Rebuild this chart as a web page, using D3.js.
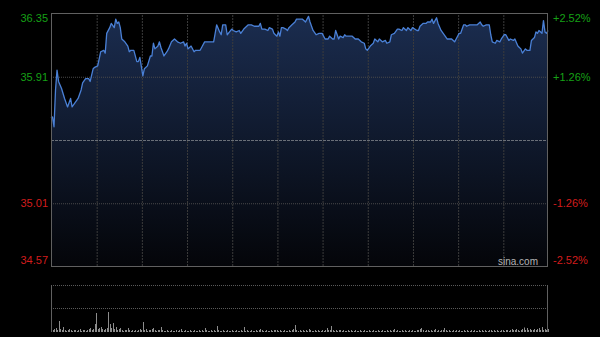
<!DOCTYPE html>
<html>
<head>
<meta charset="utf-8">
<script src="https://cdn.jsdelivr.net/npm/d3@7"></script>
<style>
  html, body { margin: 0; padding: 0; background: #000; }
  svg { display: block; }
  text { font-family: Arial, "Liberation Sans", sans-serif; }
</style>
</head>
<body>
<div id="myChart"></div>
<script>
// previous close and the symmetric percent ticks
const prevClose = 35.46;
const pctTicks = [2.52, 1.26, 0, -1.26, -2.52];

// minutes since the open (HK session: 330 trading minutes)
const times = [
  0,1,2,3,4,5,7,9,11,13,14,16,18,20,21,23,25,26,28,29,
  31,32,33,35,36,37,39,40,42,43,44,45,46,47,49,51,52,53,55,57,58,59,
  61,62,64,66,67,68,69,71,72,73,75,77,78,80,82,84,86,88,89,
  90,91,93,95,96,99,100,102,108,110,112,113,114,116,117,
  120,121,123,125,126,128,131,133,135,138,139,140,142,144,145,147,148,
  150,151,152,153,154,156,157,158,160,162,163,167,169,170,171,172,174,176,178,
  180,182,184,185,187,188,189,191,192,194,195,196,198,200,202,204,206,208,209,
  210,212,214,215,217,218,220,222,223,225,226,228,230,231,233,234,236,237,239,
  240,243,244,245,247,249,250,252,253,254,256,257,259,261,263,265,266,268,269,
  271,272,274,275,276,278,281,283,285,286,287,289,291,292,293,295,296,298,299,
  301,302,304,305,307,308,310,311,312,313,315,316,318,319,321,322,323,324,326,327,328,329,330
];
const prices = [
  35.61,35.62,35.55,35.81,35.95,35.87,35.82,35.75,35.69,35.75,35.69,35.72,35.75,35.81,35.86,35.89,35.89,35.87,35.96,35.97,
  35.98,36.03,36.08,36.09,36.07,36.21,36.25,36.28,36.25,36.31,36.28,36.29,36.25,36.17,36.15,36.12,36.08,36.09,36.09,36.01,36.01,36.04,
  35.91,35.96,35.98,36.05,36.05,36.14,36.10,36.12,36.15,36.11,36.05,36.08,36.10,36.15,36.17,36.15,36.14,36.15,36.12,
  36.14,36.10,36.12,36.08,36.09,36.09,36.11,36.15,36.15,36.27,36.22,36.20,36.27,36.27,36.20,
  36.24,36.23,36.22,36.23,36.21,36.24,36.27,36.27,36.26,36.26,36.28,36.24,36.24,36.23,36.25,36.24,36.21,
  36.19,36.22,36.19,36.25,36.25,36.24,36.23,36.25,36.27,36.29,36.31,36.31,36.29,36.31,36.33,36.29,36.23,36.20,36.21,
  36.21,36.17,36.17,36.19,36.17,36.17,36.23,36.17,36.19,36.18,36.20,36.19,36.19,36.19,36.17,36.17,36.15,36.14,36.10,
  36.09,36.12,36.14,36.17,36.15,36.17,36.15,36.16,36.14,36.15,36.20,36.21,36.24,36.24,36.23,36.25,36.23,36.25,36.23,
  36.25,36.23,36.23,36.26,36.28,36.28,36.29,36.29,36.31,36.28,36.32,36.28,36.23,36.20,36.17,36.17,36.17,36.15,36.17,
  36.21,36.21,36.27,36.27,36.26,36.27,36.27,36.27,36.29,36.27,36.26,36.27,36.27,36.20,36.15,36.14,36.16,36.15,36.17,
  36.20,36.20,36.16,36.17,36.16,36.17,36.12,36.11,36.10,36.07,36.10,36.09,36.09,36.16,36.18,36.22,36.21,36.23,36.21,36.30,36.22,36.21,36.23
];

// volume per minute (thousand shares, one value per minute 0..330)
const volumes = [
  30,20,30,40,20,110,30,20,50,20,10,20,30,20,10,20,20,10,20,30,10,20,20,10,20,30,40,20,30,80,
  190,30,40,50,30,20,30,40,200,80,40,90,30,50,20,30,40,20,10,20,20,40,20,10,20,10,20,10,20,30,
  20,100,20,30,10,20,20,30,40,20,10,20,20,50,20,10,10,20,10,10,20,10,10,20,10,20,30,10,10,20,
  10,10,20,10,10,20,10,10,20,10,20,10,40,20,10,10,20,10,20,10,60,20,10,10,20,10,10,20,10,10,
  20,10,10,20,10,10,20,10,50,10,20,10,10,20,10,10,20,10,20,30,20,10,10,20,10,10,20,10,20,20,
  20,10,20,10,10,20,10,10,20,10,20,30,70,20,10,20,10,20,10,20,10,30,20,10,10,20,10,20,10,10,
  20,10,20,40,20,20,60,20,10,20,10,20,20,10,20,10,10,20,10,20,10,10,20,10,10,20,10,10,20,10,
  10,20,10,10,20,10,10,20,10,10,20,10,10,20,10,20,10,20,30,10,20,10,10,20,10,20,10,10,20,10,
  20,10,10,20,20,30,40,20,10,20,20,10,20,10,20,30,10,20,10,20,20,40,20,10,20,10,10,20,10,20,
  10,20,10,10,20,10,20,10,10,20,10,20,10,10,20,10,20,10,20,10,10,20,20,10,20,10,20,10,10,20,
  20,10,20,20,10,20,30,20,20,30,20,10,20,30,45,20,40,20,30,20,20,30,20,30,40,20,50,20,30,20,30
];

const W = 600, H = 337;
const plot = {left: 51, right: 548, top: 13, bottom: 266};
const vol = {top: 285, bottom: 332};

const svg = d3.select("#myChart")
  .append("svg")
    .attr("width", W)
    .attr("height", H);

svg.append("rect").attr("width", W).attr("height", H).attr("fill", "#000");

// scales
let x = d3.scaleLinear().domain([0, 330]).range([plot.left, plot.right]);
let y = d3.scaleLinear()
  .domain([prevClose * (1 - pctTicks[0] / 100), prevClose * (1 + pctTicks[0] / 100)])
  .range([plot.bottom, plot.top]);
let yv = d3.scaleLinear().domain([0, 470]).range([vol.bottom, vol.top]);

const data = d3.zip(times, prices);

// gradient under the line
const grad = svg.append("defs").append("linearGradient")
  .attr("id", "fillGrad")
  .attr("gradientUnits", "userSpaceOnUse")
  .attr("x1", 0).attr("y1", plot.top).attr("x2", 0).attr("y2", plot.bottom);
grad.append("stop").attr("offset", "0%").attr("stop-color", "#1b2d50");
grad.append("stop").attr("offset", "100%").attr("stop-color", "#040509");

svg.append("path")
  .datum(data)
  .attr("fill", "url(#fillGrad)")
  .attr("d", d3.area()
    .x(d => x(d[0]))
    .y0(plot.bottom)
    .y1(d => y(d[1])));

// vertical grid (every 30 minutes)
const gridTimes = d3.range(30, 330, 30);
svg.append("g")
  .attr("transform", "translate(0," + plot.bottom + ")")
  .call(d3.axisBottom(x).tickValues(gridTimes).tickSize(-(plot.bottom - plot.top)).tickFormat(""))
  .call(g => g.select(".domain").remove())
  .selectAll("line")
    .attr("stroke", "#3c3c3c")
    .attr("stroke-dasharray", "2,1")
    .attr("transform", "translate(0.5,0)");

// horizontal grid
const priceTicks = pctTicks.map(p => prevClose * (1 + p / 100));
svg.append("g")
  .attr("transform", "translate(" + plot.left + ",0)")
  .call(d3.axisRight(y).tickValues(priceTicks.slice(1, 4)).tickSize(plot.right - plot.left).tickFormat(""))
  .call(g => g.select(".domain").remove())
  .selectAll("line")
    .attr("stroke", (d, i) => i === 1 ? "#6a6f78" : "#4a4a4a")
    .attr("stroke-dasharray", (d, i) => i === 1 ? "3,1" : "1,1")
    .attr("transform", "translate(0,0.5)");

// price line
svg.append("path")
  .datum(data)
  .attr("fill", "none")
  .attr("stroke", "#4a80d6")
  .attr("stroke-width", 1.3)
  .attr("stroke-linejoin", "round")
  .attr("d", d3.line().x(d => x(d[0])).y(d => y(d[1])));

// frame
svg.append("rect")
  .attr("x", plot.left + 0.5).attr("y", plot.top + 0.5)
  .attr("width", plot.right - plot.left - 1).attr("height", plot.bottom - plot.top)
  .attr("fill", "none")
  .attr("stroke", "#606060");

// left axis labels (prices)
const colorOf = p => p > 0 ? "#16a016" : "#d21d1d";
const labelShift = [5, 0.8, 0, 0.3, -6];
const leftAxis = svg.append("g")
  .attr("transform", "translate(" + plot.left + ",0)")
  .call(d3.axisLeft(y).tickValues(priceTicks).tickSize(0).tickPadding(3).tickFormat(d3.format(".2f")));
leftAxis.select(".domain").remove();
leftAxis.selectAll("text")
  .attr("font-size", 11)
  .attr("font-family", "Arial, 'Liberation Sans', sans-serif")
  .attr("fill", (d, i) => colorOf(pctTicks[i]))
  .attr("y", (d, i) => labelShift[i])
  .style("display", (d, i) => pctTicks[i] === 0 ? "none" : null);

// right axis labels (percent change)
const rightAxis = svg.append("g")
  .attr("transform", "translate(" + plot.right + ",0)")
  .call(d3.axisRight(y).tickValues(priceTicks).tickSize(0).tickPadding(5)
    .tickFormat((d, i) => (pctTicks[i] > 0 ? "+" : "") + pctTicks[i].toFixed(2) + "%"));
rightAxis.select(".domain").remove();
rightAxis.selectAll("text")
  .attr("font-size", 11)
  .attr("font-family", "Arial, 'Liberation Sans', sans-serif")
  .attr("fill", (d, i) => colorOf(pctTicks[i]))
  .attr("y", (d, i) => labelShift[i])
  .style("display", (d, i) => pctTicks[i] === 0 ? "none" : null);

// watermark
svg.append("text")
  .attr("x", 538).attr("y", 265)
  .attr("text-anchor", "end")
  .attr("font-size", 10)
  .attr("fill", "#b4b4b4")
  .text("sina.com");

// volume panel
svg.append("g")
  .selectAll("line")
  .data([vol.top, (vol.top + vol.bottom) / 2 - 0.5])
  .enter()
  .append("line")
    .attr("x1", plot.left).attr("x2", plot.right)
    .attr("y1", d => Math.round(d) + 0.5).attr("y2", d => Math.round(d) + 0.5)
    .attr("stroke", "#5a5a5a")
    .attr("stroke-dasharray", "1,1");

svg.append("g")
  .selectAll("rect")
  .data(volumes)
  .enter()
  .append("rect")
    .attr("x", (d, i) => Math.round(x(i)))
    .attr("y", d => yv(d))
    .attr("width", 1)
    .attr("height", d => vol.bottom - yv(d))
    .attr("fill", "#8c8c8c");

svg.append("g")
  .selectAll("line")
  .data([plot.left + 0.5, plot.right - 0.5])
  .enter()
  .append("line")
    .attr("x1", d => d).attr("x2", d => d)
    .attr("y1", vol.top).attr("y2", vol.bottom)
    .attr("stroke", "#606060");
</script>
</body>
</html>
